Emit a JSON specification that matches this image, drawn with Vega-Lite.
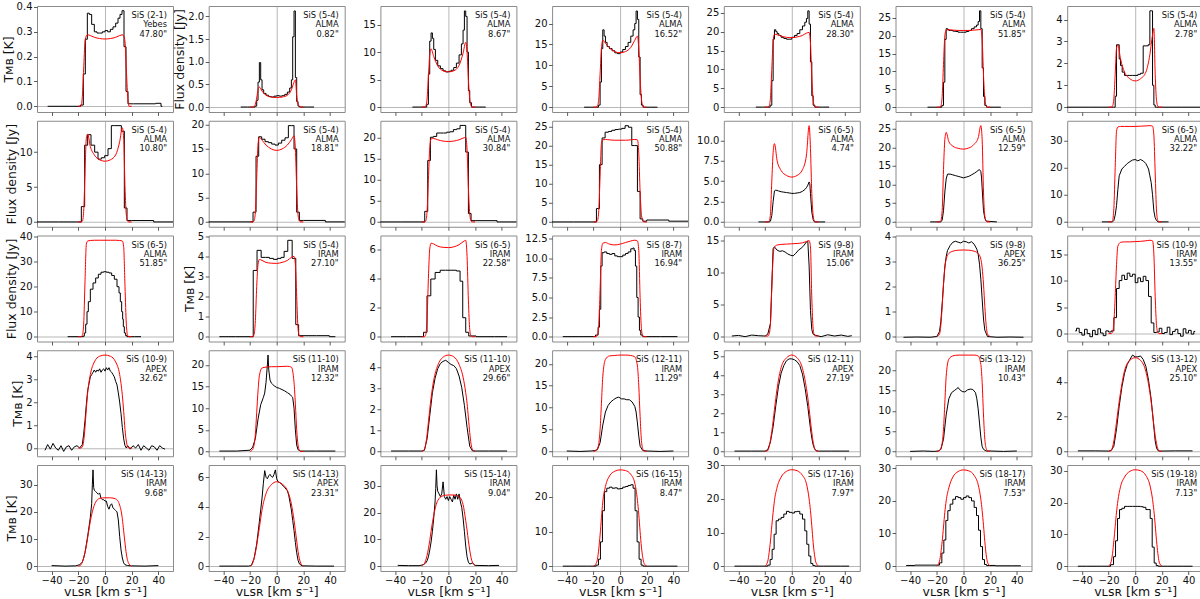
{
"$schema":"https://vega.github.io/schema/vega-lite/v6.json",
"padding":{"left":1,"top":1,"right":0,"bottom":0},
"datasets":{"t":[
{"p":0,"lab":["SiS (2-1)","Yebes","47.80\""]},{"p":1,"lab":["SiS (5-4)","ALMA","0.82\""]},{"p":2,"lab":["SiS (5-4)","ALMA","8.67\""]},{"p":3,"lab":["SiS (5-4)","ALMA","16.52\""]},{"p":4,"lab":["SiS (5-4)","ALMA","28.30\""]},{"p":5,"lab":["SiS (5-4)","ALMA","51.85\""]},{"p":6,"lab":["SiS (5-4)","ALMA","2.78\""]},
{"p":7,"lab":["SiS (5-4)","ALMA","10.80\""]},{"p":8,"lab":["SiS (5-4)","ALMA","18.81\""]},{"p":9,"lab":["SiS (5-4)","ALMA","30.84\""]},{"p":10,"lab":["SiS (5-4)","ALMA","50.88\""]},{"p":11,"lab":["SiS (6-5)","ALMA","4.74\""]},{"p":12,"lab":["SiS (6-5)","ALMA","12.59\""]},{"p":13,"lab":["SiS (6-5)","ALMA","32.22\""]},
{"p":14,"lab":["SiS (6-5)","ALMA","51.85\""]},{"p":15,"lab":["SiS (5-4)","IRAM","27.10\""]},{"p":16,"lab":["SiS (6-5)","IRAM","22.58\""]},{"p":17,"lab":["SiS (8-7)","IRAM","16.94\""]},{"p":18,"lab":["SiS (9-8)","IRAM","15.06\""]},{"p":19,"lab":["SiS (9-8)","APEX","36.25\""]},{"p":20,"lab":["SiS (10-9)","IRAM","13.55\""]},
{"p":21,"lab":["SiS (10-9)","APEX","32.62\""]},{"p":22,"lab":["SiS (11-10)","IRAM","12.32\""]},{"p":23,"lab":["SiS (11-10)","APEX","29.66\""]},{"p":24,"lab":["SiS (12-11)","IRAM","11.29\""]},{"p":25,"lab":["SiS (12-11)","APEX","27.19\""]},{"p":26,"lab":["SiS (13-12)","IRAM","10.43\""]},{"p":27,"lab":["SiS (13-12)","APEX","25.10\""]},
{"p":28,"lab":["SiS (14-13)","IRAM","9.68\""]},{"p":29,"lab":["SiS (14-13)","APEX","23.31\""]},{"p":30,"lab":["SiS (15-14)","IRAM","9.04\""]},{"p":31,"lab":["SiS (16-15)","IRAM","8.47\""]},{"p":32,"lab":["SiS (17-16)","IRAM","7.97\""]},{"p":33,"lab":["SiS (18-17)","IRAM","7.53\""]},{"p":34,"lab":["SiS (19-18)","IRAM","7.13\""]}
],
"d":[
{"p":0,"s":"o","v":[-43,-20,-17,-15.5,-14,-12.5,-11,-9,-7,-5,-3,-1,1,3,5,7,9,10.5,12,13.5,15,16.5,18,25,35,41,43],"y":[0,0,0.005,0.13,0.27,0.375,0.37,0.33,0.30,0.295,0.295,0.30,0.305,0.30,0.31,0.32,0.335,0.355,0.37,0.385,0.24,0.06,0.01,0.01,0.01,0.012,0]},
{"p":0,"s":"m","v":[-20,-18,-17,-16,-15,-14,-13,-11,-8,-4,0,4,8,11,13,14,15,16,17,18,20],"y":[0,0,0.04,0.15,0.26,0.283,0.288,0.285,0.278,0.273,0.271,0.273,0.278,0.285,0.288,0.283,0.26,0.15,0.04,0,0]},
{"p":1,"s":"o","v":[-27,-17,-15.5,-14.5,-13.5,-12.5,-11.5,-10.5,-9,-7,-5,-3,-1,1,3,5,7,9,10.5,11.5,12.5,13.5,14.5,15.5,16.5,18,28],"y":[0,0,0.02,0.15,0.55,0.98,0.6,0.38,0.3,0.26,0.23,0.22,0.24,0.25,0.24,0.25,0.28,0.33,0.42,0.6,1.55,2.12,0.65,0.12,0.02,0,0]},
{"p":1,"s":"m","v":[-20,-18,-17,-16,-15,-14,-13,-11,-8,-4,0,4,8,11,13,14,15,16,17,18,20],"y":[0,0,0.01,0.06,0.2,0.38,0.44,0.35,0.26,0.22,0.21,0.22,0.26,0.38,0.55,0.6,0.25,0.06,0.01,0,0]},
{"p":2,"s":"o","v":[-27,-17,-15.5,-14.5,-13.5,-12.5,-11.5,-10.5,-9,-7,-5,-3,-1,1,3,5,7,9,10.5,11.5,12.5,13.5,14.5,15.5,16.5,18,28],"y":[0,0,0.5,6,12,13.5,12.5,10.5,8.5,7.5,7,6.6,6.4,6.5,6.7,7.2,8,9.5,11.5,14,17.5,16.5,10,3,0.8,0,0]},
{"p":2,"s":"m","v":[-20,-18,-17,-16,-15,-14,-13,-11,-8,-4,0,4,8,11,13,14,15,16,17,18,20],"y":[0,0,0.2,1.5,5.5,9.5,10.6,9.2,7.5,6.6,6.4,6.6,7.6,9.8,11.8,10,5,1.5,0.2,0,0]},
{"p":3,"s":"o","v":[-27,-17,-15.5,-14.5,-13.5,-12.5,-11.5,-10.5,-9,-7,-5,-3,-1,1,3,5,7,9,10.5,11.5,12.5,13.5,14.5,15.5,16.5,18,28],"y":[0,0,0.5,6,14,18.5,17,15.5,14.5,14,13.5,13,12.8,13.2,13.8,14.5,15.5,17,18.5,20,23,21,12,3,0.5,0,0]},
{"p":3,"s":"m","v":[-20,-18,-17,-16,-15,-14,-13,-11,-8,-4,0,4,8,11,13,14,15,16,17,18,20],"y":[0,0,0.3,2,8,14,16,15.3,14.2,13.3,13,13.3,14.3,16,17,14,7,2,0.3,0,0]},
{"p":4,"s":"o","v":[-27,-17,-15.5,-14.5,-13.5,-12.5,-11.5,-10.5,-9,-7,-5,-3,-1,1,3,5,7,9,10.5,11.5,12.5,13.5,14.5,15.5,16.5,18,28],"y":[0,0,0.5,7,18,20.5,20,19.5,19,18.5,18.2,18,18,18.5,19,19.5,20.5,21.5,22.5,23.5,25.5,22,12,3,0.5,0,0]},
{"p":4,"s":"m","v":[-20,-18,-17,-16,-15,-14,-13,-11,-8,-4,0,4,8,11,13,14,15,16,17,18,20],"y":[0,0,0.3,2.5,10,17.5,19.3,19.2,18.8,18.5,18.4,18.6,19,19.6,19.8,17,8,2,0.3,0,0]},
{"p":5,"s":"o","v":[-27,-17,-15.5,-14.5,-13.5,-12.5,-11.5,-10.5,-9,-7,-5,-3,-1,1,3,5,7,9,10.5,11.5,12.5,13.5,14.5,15.5,16.5,18,28],"y":[0,0,0.5,7,19,22,21.8,21.5,21.5,21.3,21.2,21,21,21,21.2,21.5,22,22.5,23,24,27,22,11,3,0.5,0,0]},
{"p":5,"s":"m","v":[-20,-18,-17,-16,-15,-14,-13,-11,-8,-4,0,4,8,11,13,14,15,16,17,18,20],"y":[0,0,0.3,3,12,20,21.6,21.7,21.6,21.5,21.5,21.5,21.6,21.7,21.8,19,9,2.5,0.3,0,0]},
{"p":6,"s":"o","v":[-51,-17,-15.5,-14.5,-13.5,-12.5,-11.5,-10.5,-9,-7,-5,-3,-1,1,3,5,7,9,10.5,11.5,12.5,13.5,14.5,15.5,16.5,18,51],"y":[0,0,0,0.5,2.85,2.85,2.2,1.9,1.6,1.45,1.45,1.45,1.45,1.45,1.5,1.55,2.8,2.8,2.85,4.4,4.4,1.0,0.1,0,0,0,0]},
{"p":6,"s":"m","v":[-20,-18,-17,-16,-15,-14,-13,-11,-8,-4,0,4,8,11,13,14,15,16,17,18,20],"y":[0,0,0.05,0.4,1.5,2.7,2.85,2.2,1.6,1.3,1.2,1.3,1.6,2.4,3.3,3.6,1.5,0.3,0.05,0,0]},
{"p":7,"s":"o","v":[-51,-19,-16.5,-14,-12,-9,-6.5,-4,-1.5,1,3.5,6,8.5,11,13.5,15.5,17.5,22,51],"y":[0,0,2.2,11,12.5,11,10,9,9.2,9.5,10.5,13.8,13.8,13.8,13,2,0.2,0.2,0]},
{"p":7,"s":"m","v":[-20,-18,-17,-16,-15,-14,-13,-11,-8,-4,0,4,8,11,13,14,15,16,17,18,20],"y":[0,0,0.1,1.5,7,12,12.6,10.8,9.6,8.9,8.7,8.9,9.6,11.5,13.5,12,5,1,0.1,0,0]},
{"p":8,"s":"o","v":[-51,-19,-16.5,-14.5,-12.5,-10,-7.5,-5,-2.5,0,2.5,5,7.5,10,12,14,16,18,22,51],"y":[0,0,2,13.5,17.5,17,16.5,16.3,16,15.8,16.2,16.8,17.3,19.8,19.8,15,2,0.3,0.3,0]},
{"p":8,"s":"m","v":[-20,-18,-17,-16,-15,-14,-13,-11,-8,-4,0,4,8,11,13,14,15,16,17,18,20],"y":[0,0,0.2,2,9,16,17.4,16.8,15.8,15,14.7,15,15.8,16.9,17.7,15,7,1.5,0.2,0,0]},
{"p":9,"s":"o","v":[-51,-19,-16.5,-14.5,-12.5,-10,-7.5,-5,-2.5,0,2.5,5,7.5,10,12,14,16,18,22,51],"y":[0,0,2.5,14.5,20,20.2,21,21,21,21.2,21.3,21.8,22,22.8,22.8,16.5,2,0.3,0.3,0]},
{"p":9,"s":"m","v":[-20,-18,-17,-16,-15,-14,-13,-11,-8,-4,0,4,8,11,13,14,15,16,17,18,20],"y":[0,0,0.2,2.5,10,17.5,19.6,19.7,19.4,19.1,19,19.1,19.4,19.8,20,17,8,2,0.2,0,0]},
{"p":10,"s":"o","v":[-51,-19,-16.5,-14.5,-12.5,-10,-7.5,-5,-2.5,0,2.5,5,7.5,10,12,14,16,18,22,51],"y":[0,0,3.5,15,22,23.5,23.7,24,24.2,24.3,24.5,25.2,24.8,20,20,8,0.8,0.2,0.5,0.2]},
{"p":10,"s":"m","v":[-20,-18,-17,-16,-15,-14,-13,-11,-8,-4,0,4,8,11,13,14,15,16,17,18,20],"y":[0,0,0.3,3,12,20.5,21.5,21.6,21.5,21.4,21.4,21.4,21.5,21.6,21.5,18,8,2,0.3,0,0]},
{"p":11,"s":"o","v":[-25,-17,-16,-15,-14,-13,-12,-10,-8,-6,-4,-2,0,2,4,6,8,10,11,12,13,13.5,14,15,16,17,25],"y":[0,0,0.1,0.8,2.5,3.8,3.9,3.8,3.7,3.65,3.6,3.55,3.5,3.5,3.55,3.6,3.75,4.0,4.2,4.5,4.9,4.7,3.5,1.2,0.3,0,0]},
{"p":11,"s":"m","v":[-20,-18,-17,-16,-15,-14,-13,-11,-8,-4,0,4,8,11,13,14,15,16,17,18,20],"y":[0,0,0.1,1,5,8.5,9.6,7.5,6.3,5.7,5.5,5.7,6.4,8.2,11.8,9,3.5,0.8,0.1,0,0]},
{"p":12,"s":"o","v":[-25,-17,-16,-15,-14,-13,-12,-10,-8,-6,-4,-2,0,2,4,6,8,10,11,12,13,13.5,14,15,16,17,25],"y":[0,0,0.5,3,8,11.5,12.8,12.8,12.6,12.4,12.2,12,11.8,12,12.2,12.6,13,13.5,13.8,14,13.5,12,9,3,1,0.2,0]},
{"p":12,"s":"m","v":[-20,-18,-17,-16,-15,-14,-13,-11,-8,-4,0,4,8,11,13,14,15,16,17,18,20],"y":[0,0,0.3,3,14,22,24,21.5,20.3,19.7,19.5,19.8,20.8,22.5,25.8,22,8,1.5,0.2,0,0]},
{"p":13,"s":"o","v":[-25,-17,-16,-15,-14,-13,-12,-10,-8,-6,-4,-2,0,2,4,6,8,10,11,12,13,13.5,14,15,16,17,25],"y":[0,0,0.5,2.5,6,12,17,19.5,20.5,21.5,22.2,22.8,23,22.5,23,22.5,21.5,19.5,17,14.5,10,7,4,1.5,0.5,0,0]},
{"p":13,"s":"m","v":[-20,-18,-17,-16,-15,-14,-13,-11,-8,-4,0,4,8,11,13,14,15,16,17,18,20],"y":[0,0,0.5,5,20,33.5,35,35.2,35.2,35.2,35.2,35.3,35.4,35.5,35.3,32,18,4,0.5,0,0]},
{"p":14,"s":"o","v":[-28,-17,-16,-15,-14,-13,-12,-10,-8,-6,-4,-2,0,2,4,6,8,10,11,12,13,13.5,14,15,16,17,27],"y":[0,0,0.2,1.5,5,10,14,19,21.5,23.5,25,25.8,26,25.8,25.5,24.5,23,20,17.5,14,10,7,4,1.5,0.4,0,0]},
{"p":14,"s":"m","v":[-20,-18,-17,-16,-15,-14,-13,-11,-8,-4,0,4,8,11,13,14,15,16,17,18,20],"y":[0,0,0.5,5,22,37,38.3,38.5,38.6,38.6,38.6,38.6,38.6,38.5,38.3,36,20,5,0.5,0,0]},
{"p":15,"s":"o","v":[-43,-19,-16.2,-13.3,-10,-7,-4,-1,2,4.5,6.6,10,13.2,15.4,17.5,25,35,44],"y":[0,0,3.3,4.3,3.95,3.95,3.9,3.85,3.9,3.95,4.25,4.8,3.9,0.6,0.05,0.05,0.05,0]},
{"p":15,"s":"m","v":[-20,-18,-17,-16,-15,-14,-13,-11,-8,-4,0,4,8,11,13,14,15,16,17,18,20],"y":[0,0,0.1,0.8,2.5,3.6,3.85,3.8,3.7,3.66,3.65,3.7,3.8,3.95,4.0,3.6,2,0.4,0.05,0,0]},
{"p":16,"s":"o","v":[-43,-20,-17.3,-14.8,-11.6,-8.3,-4,0,4,8,9.5,12,14,16.5,25,44],"y":[0,0,0.3,2.8,3.95,4.4,4.55,4.55,4.55,4.5,3.8,1.3,0.3,0.05,0,0]},
{"p":16,"s":"m","v":[-20,-18,-17,-16,-15,-14,-13,-11,-8,-4,0,4,8,11,13,14,15,16,17,18,20],"y":[0,0,0.15,1.2,4,6,6.4,6.35,6.2,6.12,6.1,6.15,6.3,6.5,6.6,5.5,2.5,0.5,0.05,0,0]},
{"p":17,"s":"o","v":[-43,-20,-17,-16,-15,-14,-13,-11,-9,-7,-5,-3,-1,1,3,5,7,9,10,11,12,13,14,15,16,18,43],"y":[0,0,0.2,1.2,3.5,9,10.7,10.8,10.6,10.5,10.6,10.3,10.2,10.2,10.4,10.6,10.8,11.2,11.3,11,9,5,2.5,0.8,0.2,0,0]},
{"p":17,"s":"m","v":[-20,-18,-17,-16,-15,-14,-13,-11,-8,-4,0,4,8,11,13,14,15,16,17,18,20],"y":[0,0,0.2,1.5,6,11,11.9,12,11.8,11.7,11.8,12,12.2,12.3,12.2,11,5,1,0.1,0,0]},
{"p":18,"s":"o","v":[-45,-40,-35,-30,-25,-20,-18,-16,-15,-14,-13,-11,-9,-7,-5,-3,-1,1,3,5,7,9,11,12,13,14,15,16,18,22,27,32,37,42,45],"y":[0,0.1,-0.1,0.15,0.05,0,0.3,2,8,13.8,14,13.5,13.3,13.4,13.2,12.9,12.7,12.6,13,13.5,13.8,14.2,14.8,14.9,11,4,1,0.3,0.1,-0.1,0.2,0,0.15,-0.05,0.05]},
{"p":18,"s":"m","v":[-20,-18,-17,-16,-15,-14,-13,-11,-8,-4,0,4,8,11,13,14,15,16,17,18,20],"y":[0,0,0.3,2,7.5,12.5,14,14.3,14.4,14.45,14.5,14.55,14.65,14.85,15,14,6,1.2,0.1,0,0]},
{"p":19,"s":"o","v":[-45,-35,-25,-20,-18,-17,-16,-15,-14,-13,-12,-10,-8,-6,-4,-2,0,2,4,6,8,10,11,12,13,14,15,16,18,25,35,45],"y":[-0.03,-0.02,-0.03,0,0.2,0.6,1.3,2.1,2.8,3.2,3.45,3.65,3.78,3.82,3.78,3.75,3.82,3.8,3.75,3.8,3.7,3.5,3.3,2.9,2.3,1.5,0.7,0.25,0,-0.03,-0.02,-0.03]},
{"p":19,"s":"m","v":[-20,-18,-17,-16,-15,-14,-13,-11,-8,-4,0,4,8,11,13,14,15,16,17,18,20],"y":[0,0.1,0.45,1.2,2.1,2.75,3.1,3.33,3.42,3.46,3.47,3.46,3.42,3.33,3.1,2.75,2.1,1.2,0.45,0.1,0]},
{"p":20,"s":"o","v":[-45,-43,-41,-39,-37,-35,-33,-31,-29,-27,-25,-23,-21,-19,-17,-15,-13,-11,-9,-7,-5,-3,-1,1,3,5,7,9,11,13,15,17,19,21,23,25,27,29,31,33,35,37,39,41,43,45],"y":[0.5,1,0.2,-0.3,0.8,0,-0.6,0.6,-0.2,0.9,0.1,-0.4,0.5,0.3,0.5,3,8.5,10,11,10.2,11.4,10.8,11.2,9.6,10.5,9.8,10.8,10,7,2,0.2,0.3,1,0,0.2,1.2,-0.2,0.4,0.8,0,-0.5,0.9,0.1,0.6,-0.1,0.4]},
{"p":20,"s":"m","v":[-20,-18,-17,-16,-15,-14,-13,-11,-8,-4,0,4,8,11,13,14,15,16,17,18,20],"y":[0,0,0.3,2,7,13,16.5,17.2,17.3,17.3,17.35,17.4,17.5,17.6,17.5,15,7,1.5,0.2,0,0]},
{"p":21,"s":"o","v":[-45,-43,-41,-39,-37,-35,-33,-31,-29,-27,-25,-23,-21,-19,-17,-16,-15,-14,-13,-12,-11,-10,-9,-8,-7,-6,-5,-4,-3,-2,-1,0,1,2,3,4,5,6,7,8,9,10,11,12,13,14,15,16,17,19,21,23,25,27,29,31,33,35,37,39,41,43,45],"y":[-0.1,0.15,-0.05,0.2,0,-0.1,0.1,-0.15,0.05,0.1,-0.1,0.05,0.1,0,0.15,0.6,1.2,1.9,2.5,2.8,3.1,3.2,3.3,3.4,3.3,3.4,3.35,3.45,3.3,3.4,3.45,3.35,3.5,3.4,3.5,3.35,3.3,3.2,3.1,2.9,2.75,2.4,2,1.5,0.9,0.4,0.1,0,0.1,-0.05,0.1,0,0.15,-0.1,0.1,0,-0.1,0.1,0.05,-0.1,0.1,0,-0.05]},
{"p":21,"s":"m","v":[-20,-18,-17,-16,-15,-14,-13,-11,-8,-4,0,4,8,11,13,14,15,16,17,18,20],"y":[0,0,0.05,0.3,0.9,1.7,2.4,3.2,3.75,4.0,4.05,4.0,3.75,3.2,2.3,1.6,0.8,0.3,0.05,0,0]},
{"p":22,"s":"o","v":[-43,-30,-20,-18,-16,-14,-12,-10,-9,-8,-7,-6.5,-6,-5,-4,-3,-2,0,2,4,6,8,10,11,12,13,14,15,16,18,30,44],"y":[0.1,0.1,0.3,1,3,7.5,10.8,12.5,13.5,16,20,22.3,19,16.5,15.8,15.5,15.2,14.8,14.6,14.3,14,13.6,13.2,12.8,12.5,10,5,1.5,0.4,0.1,0.1,0.1]},
{"p":22,"s":"m","v":[-20,-18,-17,-16,-15,-14,-13,-11,-8,-4,0,4,8,11,13,14,15,16,17,18,20],"y":[0,0.5,1.5,4,9,14,17.5,19.3,19.5,19.6,19.6,19.65,19.7,19.5,16,11,5,1.5,0.3,0,0]},
{"p":23,"s":"o","v":[-43,-30,-20,-18,-16,-14,-12,-10,-8,-6,-4,-2,0,2,4,6,8,10,12,14,16,18,20,30,44],"y":[0.02,0.02,0.02,0.05,0.6,1.7,2.8,3.5,3.95,4.2,4.3,4.35,4.25,4.15,4.1,3.95,3.6,3.05,2.2,1.15,0.25,0.03,0.02,0.02,0.02]},
{"p":23,"s":"m","v":[-20,-18,-17,-16,-15,-14,-13,-11,-8,-4,0,4,8,11,13,14,15,16,17,18,20],"y":[0,0.1,0.35,0.8,1.4,2,2.55,3.4,4.1,4.5,4.6,4.52,4.15,3.55,2.8,2.3,1.6,0.9,0.35,0.1,0]},
{"p":24,"s":"o","v":[-40,-30,-22,-19,-17,-15,-13,-11,-9,-7,-5,-3,-1,1,3,5,7,9,11,12,13,14,15,17,20,30,40],"y":[0.1,0,0.1,0.2,0.4,2,6,9,10.5,11.3,11.8,12.2,12.4,12,12,11.8,11.8,11.3,10.3,9,6.5,3.5,1.2,0.2,0.1,0,0.1]},
{"p":24,"s":"m","v":[-20,-18,-17,-16,-15,-14,-13,-11,-8,-4,0,4,8,11,13,14,15,16,17,18,20],"y":[0,0.2,0.6,1.8,5,11,17,21,21.8,21.9,22,22,21.9,21.6,19.5,15,8,2.5,0.6,0.1,0]},
{"p":25,"s":"o","v":[-43,-30,-20,-18,-16,-14,-12,-10,-8,-6,-4,-2,0,2,4,6,8,10,12,14,15,16,17,18,20,30,43],"y":[0.02,0.02,0.02,0.1,0.5,1.3,2.4,3.4,4.1,4.5,4.75,4.85,4.85,4.8,4.7,4.5,4.05,3.3,2.35,1.2,0.7,0.35,0.15,0.05,0.02,0.02,0.02]},
{"p":25,"s":"m","v":[-20,-18,-17,-16,-15,-14,-13,-11,-8,-4,0,4,8,11,13,14,15,16,17,18,20],"y":[0,0.05,0.25,0.6,1.05,1.6,2.2,3.3,4.4,4.9,5.05,4.9,4.35,3.3,2.25,1.6,1.0,0.5,0.2,0.05,0]},
{"p":26,"s":"o","v":[-40,-30,-22,-19,-17,-15,-13,-11,-9,-7,-5,-4,-3,-1,1,3,5,7,9,10,11,12,13,14,15,17,20,30,40],"y":[0,0.1,0,0.1,0.5,3,9,13,14.5,15,15.5,15.8,15.3,14.8,14.7,15.2,15.4,15.3,14.5,13,10.5,7,3.5,1.2,0.5,0.1,0.1,0,0.1]},
{"p":26,"s":"m","v":[-20,-18,-17,-16,-15,-14,-13,-11,-8,-4,0,4,8,11,13,14,15,16,17,18,20],"y":[0,0.2,0.7,2,5.5,12,18.5,22.8,23.6,23.8,23.8,23.8,23.8,23.6,21.5,17,9,3,0.7,0.1,0]},
{"p":27,"s":"o","v":[-43,-30,-20,-18,-16,-14,-12,-10,-8,-6,-4,-2,0,2,4,6,8,10,12,14,15,16,17,18,20,30,43],"y":[0.03,0.03,0.02,0.05,0.3,1.3,2.6,3.7,4.5,5.0,5.3,5.55,5.45,5.45,5.5,5.3,4.9,4.1,3.0,1.4,0.6,0.2,0.05,0.02,0.02,0.03,0.03]},
{"p":27,"s":"m","v":[-20,-18,-17,-16,-15,-14,-13,-11,-8,-4,0,4,8,11,13,14,15,16,17,18,20],"y":[0,0.05,0.25,0.6,1.1,1.7,2.3,3.4,4.65,5.25,5.4,5.25,4.6,3.4,2.2,1.5,0.9,0.45,0.15,0.03,0]},
{"p":28,"s":"o","v":[-40,-30,-22,-19,-17,-16,-15,-14,-13,-12,-11,-10,-9.5,-9,-8.5,-8,-7,-6,-5,-4,-3,-2,-1,0,1,2,3,4,5,6,7,8,9,10,11,12,13,14,15,17,20,30,40],"y":[0.2,0,0.1,0.5,1.5,3,5,8,11,14.5,18,23,30,35.5,29,28,27.5,27,26.5,27,25,24.5,24.5,24,24,22,21,22.5,23,21.5,21,20.5,20,17,11,6,3,1.2,0.5,0.2,0.1,0,0.2]},
{"p":28,"s":"m","v":[-20,-18,-17,-16,-15,-14,-13,-11,-8,-4,0,4,8,11,13,14,15,16,17,18,20],"y":[0,0.5,1.5,3,5,7.5,10.5,16.5,22.5,25,25.2,25.2,24.8,22.5,17.5,13,8.5,4.5,2,0.8,0]},
{"p":29,"s":"o","v":[-43,-30,-21,-19,-17,-15,-13,-12,-11,-10,-9,-8,-7,-6,-5,-4,-3,-2,-1,0,1,2,3,4,5,6,7,8,9,10,11,12,13,14,15,16,17,19,30,43],"y":[0,0,0,0.05,0.5,1.5,3,3.8,4.6,5.6,6.45,6,5.9,6.1,6.2,6.05,6,6.2,6.5,5.9,5.7,5.65,5.6,5.5,5.4,5.3,5.2,5.1,4.8,4.3,3.8,3.1,2.4,1.6,0.9,0.4,0.15,0.02,0,0]},
{"p":29,"s":"m","v":[-20,-18,-17,-16,-15,-14,-13,-11,-8,-4,0,4,8,11,13,14,15,16,17,18,20],"y":[0,0.2,0.5,0.9,1.4,2,2.6,3.8,4.9,5.5,5.7,5.55,5.1,4.2,3.1,2.4,1.7,1.0,0.5,0.2,0]},
{"p":30,"s":"o","v":[-38,-30,-22,-19,-17,-16,-15,-14,-13,-12,-11,-10,-9.5,-9,-8.5,-8,-7,-6,-5,-4,-3,-2,-1,0,1,2,3,4,5,6,7,8,9,10,11,12,13,14,15,16,18,20,30,38],"y":[0.3,0.2,0.2,0.5,1.2,2,3.5,6,9,13,18,24,29,36,30,28,27,26,27,31.5,26,25,26,24.5,26,25,24,26.5,25,27,25,27,24,22,18,13,7.5,3.5,1.5,0.8,1.2,0.3,0.2,0.3]},
{"p":30,"s":"m","v":[-20,-18,-17,-16,-15,-14,-13,-11,-8,-4,0,4,8,11,13,14,15,16,17,18,20],"y":[0.2,1,2.2,4,6.5,9.5,13,19,24.5,26.3,26.6,26.6,26,23,17,13.5,9.5,6,3.2,1.5,0.3]},
{"p":31,"s":"o","v":[-43,-30,-19,-17,-15.5,-14,-12.5,-11,-9,-7,-5,-3,-1,1,3,5,7,9,10.5,12,13.5,15,16.5,18,30,43],"y":[0,0,0,0.3,2,7,16,21.5,22.5,22.8,22.5,22.6,22.3,22.4,22.8,23,23.3,23.5,22.5,16,7,2,0.3,0,0,0]},
{"p":31,"s":"m","v":[-20,-18,-17,-16,-15,-14,-13,-11,-8,-4,0,4,8,11,13,14,15,16,17,18,20],"y":[0,0.8,2,5,9,14,18.5,23,26,27.4,27.8,27.6,26.5,24,19,15,10,5.5,2.5,0.8,0]},
{"p":32,"s":"o","v":[-43,-30,-19,-17,-15.5,-14,-12.5,-11,-9,-7,-5,-3,-1,1,3,5,7,9,10.5,12,13.5,15,16.5,18,30,43],"y":[0,0,0,0.3,2,5,9.5,13.5,14,14.5,15.5,16.3,16,15.8,16.2,16.3,15.5,14,10.5,6.5,3,0.8,0.2,0,0,0]},
{"p":32,"s":"m","v":[-20,-18,-17,-16,-15,-14,-13,-11,-8,-4,0,4,8,11,13,14,15,16,17,18,20],"y":[0,1.5,4,7.5,12,16,19.5,23.5,26.5,28.2,28.7,28.4,27,24.5,20,16.5,12,7,3.5,1.2,0]},
{"p":33,"s":"o","v":[-43,-30,-19,-17,-15.5,-14,-12.5,-11,-9,-7,-5,-3,-1,1,3,5,7,9,10.5,12,13.5,15,16.5,18,30,43],"y":[0.2,0.3,0.3,1,4,8,14,17,19,20.5,21.3,21,20.5,21,21.5,21,20,18,15.5,11,6,2,0.5,0.2,0.1,0.1]},
{"p":33,"s":"m","v":[-20,-18,-17,-16,-15,-14,-13,-11,-8,-4,0,4,8,11,13,14,15,16,17,18,20],"y":[0,1.5,4,7.5,12,16.5,20,24,27.3,29,29.5,29.2,27.8,25,20.5,17,12.5,7.5,3.5,1.2,0]},
{"p":34,"s":"o","v":[-43,-30,-20,-17,-15.5,-14,-12.5,-11,-9,-7,-5,-3,-1,1,3,5,7,9,10.5,12,13.5,15,16.5,18,30,43],"y":[0,0,0,0.5,3,8,15,17.8,18.2,18.8,18.8,18.8,18.8,18.8,18.8,18.7,18.5,17.8,17.8,15,6,1,0.2,0,0,0]},
{"p":34,"s":"m","v":[-20,-18,-17,-16,-15,-14,-13,-11,-8,-4,0,4,8,11,13,14,15,16,17,18,20],"y":[0,1.5,4,8,12.5,17,20.5,25,28,29.8,30.3,30,28.5,25.5,21,17.5,13,8,4,1.3,0]}
]},
"data":{"name":"d"},
"transform":[{"flatten":["v","y"]}],
"columns":7,
"bounds":"flush",
"spacing":{"row":8.75,"column":35.7},
"concat":[
{"width":136,"height":106,"encoding":{"x":{"type":"quantitative","scale":{"domain":[-51,51]},"axis":{"values":[-40,-20,0,20,40],"labels":false,"title":null}},"y":{"type":"quantitative","scale":{"domain":[-0.023,0.404]},"axis":{"values":[0,0.1,0.2,0.3,0.4],"format":".1f","title":"Tᴍʙ [K]"}}},"layer":[{"transform":[{"filter":"datum.p==0&&datum.s=='o'"}],"mark":{"type":"line","interpolate":"step","color":"#000"},"encoding":{"x":{"field":"v"},"y":{"field":"y"}}},{"transform":[{"filter":"datum.p==0&&datum.s=='m'"}],"mark":{"type":"line","interpolate":"monotone","color":"#f00"},"encoding":{"x":{"field":"v"},"y":{"field":"y"}}},{"data":{"name":"t"},"transform":[{"filter":"datum.p==0"}],"mark":"text","encoding":{"x":{"datum":51},"y":{"datum":0.404},"text":{"field":"lab"}}}]},
{"width":136,"height":106,"encoding":{"x":{"type":"quantitative","scale":{"domain":[-51,51]},"axis":{"values":[-40,-20,0,20,40],"labels":false,"title":null}},"y":{"type":"quantitative","scale":{"domain":[-0.11,2.23]},"axis":{"values":[0,0.5,1,1.5,2],"format":".1f","title":"Flux density [Jy]"}}},"layer":[{"transform":[{"filter":"datum.p==1&&datum.s=='o'"}],"mark":{"type":"line","interpolate":"step","color":"#000"},"encoding":{"x":{"field":"v"},"y":{"field":"y"}}},{"transform":[{"filter":"datum.p==1&&datum.s=='m'"}],"mark":{"type":"line","interpolate":"monotone","color":"#f00"},"encoding":{"x":{"field":"v"},"y":{"field":"y"}}},{"data":{"name":"t"},"transform":[{"filter":"datum.p==1"}],"mark":"text","encoding":{"x":{"datum":51},"y":{"datum":2.23},"text":{"field":"lab"}}}]},
{"width":136,"height":106,"encoding":{"x":{"type":"quantitative","scale":{"domain":[-51,51]},"axis":{"values":[-40,-20,0,20,40],"labels":false,"title":null}},"y":{"type":"quantitative","scale":{"domain":[-0.9,18.4]},"axis":{"values":[0,5,10,15],"format":"d","title":null}}},"layer":[{"transform":[{"filter":"datum.p==2&&datum.s=='o'"}],"mark":{"type":"line","interpolate":"step","color":"#000"},"encoding":{"x":{"field":"v"},"y":{"field":"y"}}},{"transform":[{"filter":"datum.p==2&&datum.s=='m'"}],"mark":{"type":"line","interpolate":"monotone","color":"#f00"},"encoding":{"x":{"field":"v"},"y":{"field":"y"}}},{"data":{"name":"t"},"transform":[{"filter":"datum.p==2"}],"mark":"text","encoding":{"x":{"datum":51},"y":{"datum":18.4},"text":{"field":"lab"}}}]},
{"width":136,"height":106,"encoding":{"x":{"type":"quantitative","scale":{"domain":[-51,51]},"axis":{"values":[-40,-20,0,20,40],"labels":false,"title":null}},"y":{"type":"quantitative","scale":{"domain":[-1.15,24.2]},"axis":{"values":[0,5,10,15,20],"format":"d","title":null}}},"layer":[{"transform":[{"filter":"datum.p==3&&datum.s=='o'"}],"mark":{"type":"line","interpolate":"step","color":"#000"},"encoding":{"x":{"field":"v"},"y":{"field":"y"}}},{"transform":[{"filter":"datum.p==3&&datum.s=='m'"}],"mark":{"type":"line","interpolate":"monotone","color":"#f00"},"encoding":{"x":{"field":"v"},"y":{"field":"y"}}},{"data":{"name":"t"},"transform":[{"filter":"datum.p==3"}],"mark":"text","encoding":{"x":{"datum":51},"y":{"datum":24.2},"text":{"field":"lab"}}}]},
{"width":136,"height":106,"encoding":{"x":{"type":"quantitative","scale":{"domain":[-51,51]},"axis":{"values":[-40,-20,0,20,40],"labels":false,"title":null}},"y":{"type":"quantitative","scale":{"domain":[-1.3,26.8]},"axis":{"values":[0,5,10,15,20,25],"format":"d","title":null}}},"layer":[{"transform":[{"filter":"datum.p==4&&datum.s=='o'"}],"mark":{"type":"line","interpolate":"step","color":"#000"},"encoding":{"x":{"field":"v"},"y":{"field":"y"}}},{"transform":[{"filter":"datum.p==4&&datum.s=='m'"}],"mark":{"type":"line","interpolate":"monotone","color":"#f00"},"encoding":{"x":{"field":"v"},"y":{"field":"y"}}},{"data":{"name":"t"},"transform":[{"filter":"datum.p==4"}],"mark":"text","encoding":{"x":{"datum":51},"y":{"datum":26.8},"text":{"field":"lab"}}}]},
{"width":136,"height":106,"encoding":{"x":{"type":"quantitative","scale":{"domain":[-51,51]},"axis":{"values":[-40,-20,0,20,40],"labels":false,"title":null}},"y":{"type":"quantitative","scale":{"domain":[-1.35,28.35]},"axis":{"values":[0,5,10,15,20,25],"format":"d","title":null}}},"layer":[{"transform":[{"filter":"datum.p==5&&datum.s=='o'"}],"mark":{"type":"line","interpolate":"step","color":"#000"},"encoding":{"x":{"field":"v"},"y":{"field":"y"}}},{"transform":[{"filter":"datum.p==5&&datum.s=='m'"}],"mark":{"type":"line","interpolate":"monotone","color":"#f00"},"encoding":{"x":{"field":"v"},"y":{"field":"y"}}},{"data":{"name":"t"},"transform":[{"filter":"datum.p==5"}],"mark":"text","encoding":{"x":{"datum":51},"y":{"datum":28.35},"text":{"field":"lab"}}}]},
{"width":136,"height":106,"encoding":{"x":{"type":"quantitative","scale":{"domain":[-51,51]},"axis":{"values":[-40,-20,0,20,40],"labels":false,"title":null}},"y":{"type":"quantitative","scale":{"domain":[-0.22,4.62]},"axis":{"values":[0,1,2,3,4],"format":"d","title":null}}},"layer":[{"transform":[{"filter":"datum.p==6&&datum.s=='o'"}],"mark":{"type":"line","interpolate":"step","color":"#000"},"encoding":{"x":{"field":"v"},"y":{"field":"y"}}},{"transform":[{"filter":"datum.p==6&&datum.s=='m'"}],"mark":{"type":"line","interpolate":"monotone","color":"#f00"},"encoding":{"x":{"field":"v"},"y":{"field":"y"}}},{"data":{"name":"t"},"transform":[{"filter":"datum.p==6"}],"mark":"text","encoding":{"x":{"datum":51},"y":{"datum":4.62},"text":{"field":"lab"}}}]},
{"width":136,"height":106,"encoding":{"x":{"type":"quantitative","scale":{"domain":[-51,51]},"axis":{"values":[-40,-20,0,20,40],"labels":false,"title":null}},"y":{"type":"quantitative","scale":{"domain":[-0.69,14.5]},"axis":{"values":[0,5,10],"format":"d","title":"Flux density [Jy]"}}},"layer":[{"transform":[{"filter":"datum.p==7&&datum.s=='o'"}],"mark":{"type":"line","interpolate":"step","color":"#000"},"encoding":{"x":{"field":"v"},"y":{"field":"y"}}},{"transform":[{"filter":"datum.p==7&&datum.s=='m'"}],"mark":{"type":"line","interpolate":"monotone","color":"#f00"},"encoding":{"x":{"field":"v"},"y":{"field":"y"}}},{"data":{"name":"t"},"transform":[{"filter":"datum.p==7"}],"mark":"text","encoding":{"x":{"datum":51},"y":{"datum":14.5},"text":{"field":"lab"}}}]},
{"width":136,"height":106,"encoding":{"x":{"type":"quantitative","scale":{"domain":[-51,51]},"axis":{"values":[-40,-20,0,20,40],"labels":false,"title":null}},"y":{"type":"quantitative","scale":{"domain":[-1,20.8]},"axis":{"values":[0,5,10,15,20],"format":"d","title":null}}},"layer":[{"transform":[{"filter":"datum.p==8&&datum.s=='o'"}],"mark":{"type":"line","interpolate":"step","color":"#000"},"encoding":{"x":{"field":"v"},"y":{"field":"y"}}},{"transform":[{"filter":"datum.p==8&&datum.s=='m'"}],"mark":{"type":"line","interpolate":"monotone","color":"#f00"},"encoding":{"x":{"field":"v"},"y":{"field":"y"}}},{"data":{"name":"t"},"transform":[{"filter":"datum.p==8"}],"mark":"text","encoding":{"x":{"datum":51},"y":{"datum":20.8},"text":{"field":"lab"}}}]},
{"width":136,"height":106,"encoding":{"x":{"type":"quantitative","scale":{"domain":[-51,51]},"axis":{"values":[-40,-20,0,20,40],"labels":false,"title":null}},"y":{"type":"quantitative","scale":{"domain":[-1.14,23.9]},"axis":{"values":[0,5,10,15,20],"format":"d","title":null}}},"layer":[{"transform":[{"filter":"datum.p==9&&datum.s=='o'"}],"mark":{"type":"line","interpolate":"step","color":"#000"},"encoding":{"x":{"field":"v"},"y":{"field":"y"}}},{"transform":[{"filter":"datum.p==9&&datum.s=='m'"}],"mark":{"type":"line","interpolate":"monotone","color":"#f00"},"encoding":{"x":{"field":"v"},"y":{"field":"y"}}},{"data":{"name":"t"},"transform":[{"filter":"datum.p==9"}],"mark":"text","encoding":{"x":{"datum":51},"y":{"datum":23.9},"text":{"field":"lab"}}}]},
{"width":136,"height":106,"encoding":{"x":{"type":"quantitative","scale":{"domain":[-51,51]},"axis":{"values":[-40,-20,0,20,40],"labels":false,"title":null}},"y":{"type":"quantitative","scale":{"domain":[-1.26,26.5]},"axis":{"values":[0,5,10,15,20,25],"format":"d","title":null}}},"layer":[{"transform":[{"filter":"datum.p==10&&datum.s=='o'"}],"mark":{"type":"line","interpolate":"step","color":"#000"},"encoding":{"x":{"field":"v"},"y":{"field":"y"}}},{"transform":[{"filter":"datum.p==10&&datum.s=='m'"}],"mark":{"type":"line","interpolate":"monotone","color":"#f00"},"encoding":{"x":{"field":"v"},"y":{"field":"y"}}},{"data":{"name":"t"},"transform":[{"filter":"datum.p==10"}],"mark":"text","encoding":{"x":{"datum":51},"y":{"datum":26.5},"text":{"field":"lab"}}}]},
{"width":136,"height":106,"encoding":{"x":{"type":"quantitative","scale":{"domain":[-51,51]},"axis":{"values":[-40,-20,0,20,40],"labels":false,"title":null}},"y":{"type":"quantitative","scale":{"domain":[-0.59,12.4]},"axis":{"values":[0,2.5,5,7.5,10],"format":".1f","title":null}}},"layer":[{"transform":[{"filter":"datum.p==11&&datum.s=='o'"}],"mark":{"type":"line","interpolate":"linear","color":"#000"},"encoding":{"x":{"field":"v"},"y":{"field":"y"}}},{"transform":[{"filter":"datum.p==11&&datum.s=='m'"}],"mark":{"type":"line","interpolate":"monotone","color":"#f00"},"encoding":{"x":{"field":"v"},"y":{"field":"y"}}},{"data":{"name":"t"},"transform":[{"filter":"datum.p==11"}],"mark":"text","encoding":{"x":{"datum":51},"y":{"datum":12.4},"text":{"field":"lab"}}}]},
{"width":136,"height":106,"encoding":{"x":{"type":"quantitative","scale":{"domain":[-51,51]},"axis":{"values":[-40,-20,0,20,40],"labels":false,"title":null}},"y":{"type":"quantitative","scale":{"domain":[-1.3,27.1]},"axis":{"values":[0,5,10,15,20,25],"format":"d","title":null}}},"layer":[{"transform":[{"filter":"datum.p==12&&datum.s=='o'"}],"mark":{"type":"line","interpolate":"linear","color":"#000"},"encoding":{"x":{"field":"v"},"y":{"field":"y"}}},{"transform":[{"filter":"datum.p==12&&datum.s=='m'"}],"mark":{"type":"line","interpolate":"monotone","color":"#f00"},"encoding":{"x":{"field":"v"},"y":{"field":"y"}}},{"data":{"name":"t"},"transform":[{"filter":"datum.p==12"}],"mark":"text","encoding":{"x":{"datum":51},"y":{"datum":27.1},"text":{"field":"lab"}}}]},
{"width":136,"height":106,"encoding":{"x":{"type":"quantitative","scale":{"domain":[-51,51]},"axis":{"values":[-40,-20,0,20,40],"labels":false,"title":null}},"y":{"type":"quantitative","scale":{"domain":[-1.8,37.3]},"axis":{"values":[0,10,20,30],"format":"d","title":null}}},"layer":[{"transform":[{"filter":"datum.p==13&&datum.s=='o'"}],"mark":{"type":"line","interpolate":"linear","color":"#000"},"encoding":{"x":{"field":"v"},"y":{"field":"y"}}},{"transform":[{"filter":"datum.p==13&&datum.s=='m'"}],"mark":{"type":"line","interpolate":"monotone","color":"#f00"},"encoding":{"x":{"field":"v"},"y":{"field":"y"}}},{"data":{"name":"t"},"transform":[{"filter":"datum.p==13"}],"mark":"text","encoding":{"x":{"datum":51},"y":{"datum":37.3},"text":{"field":"lab"}}}]},
{"width":136,"height":106,"encoding":{"x":{"type":"quantitative","scale":{"domain":[-51,51]},"axis":{"values":[-40,-20,0,20,40],"labels":false,"title":null}},"y":{"type":"quantitative","scale":{"domain":[-1.93,40.5]},"axis":{"values":[0,10,20,30,40],"format":"d","title":"Flux density [Jy]"}}},"layer":[{"transform":[{"filter":"datum.p==14&&datum.s=='o'"}],"mark":{"type":"line","interpolate":"step","color":"#000"},"encoding":{"x":{"field":"v"},"y":{"field":"y"}}},{"transform":[{"filter":"datum.p==14&&datum.s=='m'"}],"mark":{"type":"line","interpolate":"monotone","color":"#f00"},"encoding":{"x":{"field":"v"},"y":{"field":"y"}}},{"data":{"name":"t"},"transform":[{"filter":"datum.p==14"}],"mark":"text","encoding":{"x":{"datum":51},"y":{"datum":40.5},"text":{"field":"lab"}}}]},
{"width":136,"height":106,"encoding":{"x":{"type":"quantitative","scale":{"domain":[-51,51]},"axis":{"values":[-40,-20,0,20,40],"labels":false,"title":null}},"y":{"type":"quantitative","scale":{"domain":[-0.24,5.04]},"axis":{"values":[0,1,2,3,4,5],"format":"d","title":"Tᴍʙ [K]"}}},"layer":[{"transform":[{"filter":"datum.p==15&&datum.s=='o'"}],"mark":{"type":"line","interpolate":"step","color":"#000"},"encoding":{"x":{"field":"v"},"y":{"field":"y"}}},{"transform":[{"filter":"datum.p==15&&datum.s=='m'"}],"mark":{"type":"line","interpolate":"monotone","color":"#f00"},"encoding":{"x":{"field":"v"},"y":{"field":"y"}}},{"data":{"name":"t"},"transform":[{"filter":"datum.p==15"}],"mark":"text","encoding":{"x":{"datum":51},"y":{"datum":5.04},"text":{"field":"lab"}}}]},
{"width":136,"height":106,"encoding":{"x":{"type":"quantitative","scale":{"domain":[-51,51]},"axis":{"values":[-40,-20,0,20,40],"labels":false,"title":null}},"y":{"type":"quantitative","scale":{"domain":[-0.33,6.93]},"axis":{"values":[0,2,4,6],"format":"d","title":null}}},"layer":[{"transform":[{"filter":"datum.p==16&&datum.s=='o'"}],"mark":{"type":"line","interpolate":"step","color":"#000"},"encoding":{"x":{"field":"v"},"y":{"field":"y"}}},{"transform":[{"filter":"datum.p==16&&datum.s=='m'"}],"mark":{"type":"line","interpolate":"monotone","color":"#f00"},"encoding":{"x":{"field":"v"},"y":{"field":"y"}}},{"data":{"name":"t"},"transform":[{"filter":"datum.p==16"}],"mark":"text","encoding":{"x":{"datum":51},"y":{"datum":6.93},"text":{"field":"lab"}}}]},
{"width":136,"height":106,"encoding":{"x":{"type":"quantitative","scale":{"domain":[-51,51]},"axis":{"values":[-40,-20,0,20,40],"labels":false,"title":null}},"y":{"type":"quantitative","scale":{"domain":[-0.62,12.9]},"axis":{"values":[0,2.5,5,7.5,10,12.5],"format":".1f","title":null}}},"layer":[{"transform":[{"filter":"datum.p==17&&datum.s=='o'"}],"mark":{"type":"line","interpolate":"step","color":"#000"},"encoding":{"x":{"field":"v"},"y":{"field":"y"}}},{"transform":[{"filter":"datum.p==17&&datum.s=='m'"}],"mark":{"type":"line","interpolate":"monotone","color":"#f00"},"encoding":{"x":{"field":"v"},"y":{"field":"y"}}},{"data":{"name":"t"},"transform":[{"filter":"datum.p==17"}],"mark":"text","encoding":{"x":{"datum":51},"y":{"datum":12.9},"text":{"field":"lab"}}}]},
{"width":136,"height":106,"encoding":{"x":{"type":"quantitative","scale":{"domain":[-51,51]},"axis":{"values":[-40,-20,0,20,40],"labels":false,"title":null}},"y":{"type":"quantitative","scale":{"domain":[-0.86,15.8]},"axis":{"values":[0,5,10,15],"format":"d","title":null}}},"layer":[{"transform":[{"filter":"datum.p==18&&datum.s=='o'"}],"mark":{"type":"line","interpolate":"linear","color":"#000"},"encoding":{"x":{"field":"v"},"y":{"field":"y"}}},{"transform":[{"filter":"datum.p==18&&datum.s=='m'"}],"mark":{"type":"line","interpolate":"monotone","color":"#f00"},"encoding":{"x":{"field":"v"},"y":{"field":"y"}}},{"data":{"name":"t"},"transform":[{"filter":"datum.p==18"}],"mark":"text","encoding":{"x":{"datum":51},"y":{"datum":15.8},"text":{"field":"lab"}}}]},
{"width":136,"height":106,"encoding":{"x":{"type":"quantitative","scale":{"domain":[-51,51]},"axis":{"values":[-40,-20,0,20,40],"labels":false,"title":null}},"y":{"type":"quantitative","scale":{"domain":[-0.2,4.05]},"axis":{"values":[0,1,2,3,4],"format":"d","title":null}}},"layer":[{"transform":[{"filter":"datum.p==19&&datum.s=='o'"}],"mark":{"type":"line","interpolate":"linear","color":"#000"},"encoding":{"x":{"field":"v"},"y":{"field":"y"}}},{"transform":[{"filter":"datum.p==19&&datum.s=='m'"}],"mark":{"type":"line","interpolate":"monotone","color":"#f00"},"encoding":{"x":{"field":"v"},"y":{"field":"y"}}},{"data":{"name":"t"},"transform":[{"filter":"datum.p==19"}],"mark":"text","encoding":{"x":{"datum":51},"y":{"datum":4.05},"text":{"field":"lab"}}}]},
{"width":136,"height":106,"encoding":{"x":{"type":"quantitative","scale":{"domain":[-51,51]},"axis":{"values":[-40,-20,0,20,40],"labels":false,"title":null}},"y":{"type":"quantitative","scale":{"domain":[-1.5,18.5]},"axis":{"values":[0,5,10,15],"format":"d","title":null}}},"layer":[{"transform":[{"filter":"datum.p==20&&datum.s=='o'"}],"mark":{"type":"line","interpolate":"step","color":"#000"},"encoding":{"x":{"field":"v"},"y":{"field":"y"}}},{"transform":[{"filter":"datum.p==20&&datum.s=='m'"}],"mark":{"type":"line","interpolate":"monotone","color":"#f00"},"encoding":{"x":{"field":"v"},"y":{"field":"y"}}},{"data":{"name":"t"},"transform":[{"filter":"datum.p==20"}],"mark":"text","encoding":{"x":{"datum":51},"y":{"datum":18.5},"text":{"field":"lab"}}}]},
{"width":136,"height":106,"encoding":{"x":{"type":"quantitative","scale":{"domain":[-51,51]},"axis":{"values":[-40,-20,0,20,40],"labels":false,"title":null}},"y":{"type":"quantitative","scale":{"domain":[-0.36,4.26]},"axis":{"values":[0,1,2,3,4],"format":"d","title":"Tᴍʙ [K]"}}},"layer":[{"transform":[{"filter":"datum.p==21&&datum.s=='o'"}],"mark":{"type":"line","interpolate":"linear","color":"#000"},"encoding":{"x":{"field":"v"},"y":{"field":"y"}}},{"transform":[{"filter":"datum.p==21&&datum.s=='m'"}],"mark":{"type":"line","interpolate":"monotone","color":"#f00"},"encoding":{"x":{"field":"v"},"y":{"field":"y"}}},{"data":{"name":"t"},"transform":[{"filter":"datum.p==21"}],"mark":"text","encoding":{"x":{"datum":51},"y":{"datum":4.26},"text":{"field":"lab"}}}]},
{"width":136,"height":106,"encoding":{"x":{"type":"quantitative","scale":{"domain":[-51,51]},"axis":{"values":[-40,-20,0,20,40],"labels":false,"title":null}},"y":{"type":"quantitative","scale":{"domain":[-1.1,23.4]},"axis":{"values":[0,5,10,15,20],"format":"d","title":null}}},"layer":[{"transform":[{"filter":"datum.p==22&&datum.s=='o'"}],"mark":{"type":"line","interpolate":"linear","color":"#000"},"encoding":{"x":{"field":"v"},"y":{"field":"y"}}},{"transform":[{"filter":"datum.p==22&&datum.s=='m'"}],"mark":{"type":"line","interpolate":"monotone","color":"#f00"},"encoding":{"x":{"field":"v"},"y":{"field":"y"}}},{"data":{"name":"t"},"transform":[{"filter":"datum.p==22"}],"mark":"text","encoding":{"x":{"datum":51},"y":{"datum":23.4},"text":{"field":"lab"}}}]},
{"width":136,"height":106,"encoding":{"x":{"type":"quantitative","scale":{"domain":[-51,51]},"axis":{"values":[-40,-20,0,20,40],"labels":false,"title":null}},"y":{"type":"quantitative","scale":{"domain":[-0.23,4.83]},"axis":{"values":[0,1,2,3,4],"format":"d","title":null}}},"layer":[{"transform":[{"filter":"datum.p==23&&datum.s=='o'"}],"mark":{"type":"line","interpolate":"linear","color":"#000"},"encoding":{"x":{"field":"v"},"y":{"field":"y"}}},{"transform":[{"filter":"datum.p==23&&datum.s=='m'"}],"mark":{"type":"line","interpolate":"monotone","color":"#f00"},"encoding":{"x":{"field":"v"},"y":{"field":"y"}}},{"data":{"name":"t"},"transform":[{"filter":"datum.p==23"}],"mark":"text","encoding":{"x":{"datum":51},"y":{"datum":4.83},"text":{"field":"lab"}}}]},
{"width":136,"height":106,"encoding":{"x":{"type":"quantitative","scale":{"domain":[-51,51]},"axis":{"values":[-40,-20,0,20,40],"labels":false,"title":null}},"y":{"type":"quantitative","scale":{"domain":[-1.1,23.1]},"axis":{"values":[0,5,10,15,20],"format":"d","title":null}}},"layer":[{"transform":[{"filter":"datum.p==24&&datum.s=='o'"}],"mark":{"type":"line","interpolate":"linear","color":"#000"},"encoding":{"x":{"field":"v"},"y":{"field":"y"}}},{"transform":[{"filter":"datum.p==24&&datum.s=='m'"}],"mark":{"type":"line","interpolate":"monotone","color":"#f00"},"encoding":{"x":{"field":"v"},"y":{"field":"y"}}},{"data":{"name":"t"},"transform":[{"filter":"datum.p==24"}],"mark":"text","encoding":{"x":{"datum":51},"y":{"datum":23.1},"text":{"field":"lab"}}}]},
{"width":136,"height":106,"encoding":{"x":{"type":"quantitative","scale":{"domain":[-51,51]},"axis":{"values":[-40,-20,0,20,40],"labels":false,"title":null}},"y":{"type":"quantitative","scale":{"domain":[-0.25,5.3]},"axis":{"values":[0,1,2,3,4,5],"format":"d","title":null}}},"layer":[{"transform":[{"filter":"datum.p==25&&datum.s=='o'"}],"mark":{"type":"line","interpolate":"linear","color":"#000"},"encoding":{"x":{"field":"v"},"y":{"field":"y"}}},{"transform":[{"filter":"datum.p==25&&datum.s=='m'"}],"mark":{"type":"line","interpolate":"monotone","color":"#f00"},"encoding":{"x":{"field":"v"},"y":{"field":"y"}}},{"data":{"name":"t"},"transform":[{"filter":"datum.p==25"}],"mark":"text","encoding":{"x":{"datum":51},"y":{"datum":5.3},"text":{"field":"lab"}}}]},
{"width":136,"height":106,"encoding":{"x":{"type":"quantitative","scale":{"domain":[-51,51]},"axis":{"values":[-40,-20,0,20,40],"labels":false,"title":null}},"y":{"type":"quantitative","scale":{"domain":[-1.2,25]},"axis":{"values":[0,5,10,15,20],"format":"d","title":null}}},"layer":[{"transform":[{"filter":"datum.p==26&&datum.s=='o'"}],"mark":{"type":"line","interpolate":"linear","color":"#000"},"encoding":{"x":{"field":"v"},"y":{"field":"y"}}},{"transform":[{"filter":"datum.p==26&&datum.s=='m'"}],"mark":{"type":"line","interpolate":"monotone","color":"#f00"},"encoding":{"x":{"field":"v"},"y":{"field":"y"}}},{"data":{"name":"t"},"transform":[{"filter":"datum.p==26"}],"mark":"text","encoding":{"x":{"datum":51},"y":{"datum":25},"text":{"field":"lab"}}}]},
{"width":136,"height":106,"encoding":{"x":{"type":"quantitative","scale":{"domain":[-51,51]},"axis":{"values":[-40,-20,0,20,40],"labels":false,"title":null}},"y":{"type":"quantitative","scale":{"domain":[-0.28,5.83]},"axis":{"values":[0,2,4],"format":"d","title":null}}},"layer":[{"transform":[{"filter":"datum.p==27&&datum.s=='o'"}],"mark":{"type":"line","interpolate":"linear","color":"#000"},"encoding":{"x":{"field":"v"},"y":{"field":"y"}}},{"transform":[{"filter":"datum.p==27&&datum.s=='m'"}],"mark":{"type":"line","interpolate":"monotone","color":"#f00"},"encoding":{"x":{"field":"v"},"y":{"field":"y"}}},{"data":{"name":"t"},"transform":[{"filter":"datum.p==27"}],"mark":"text","encoding":{"x":{"datum":51},"y":{"datum":5.83},"text":{"field":"lab"}}}]},
{"width":136,"height":106,"encoding":{"x":{"type":"quantitative","scale":{"domain":[-51,51]},"axis":{"values":[-40,-20,0,20,40],"title":"vʟꜱʀ [km s⁻¹]"}},"y":{"type":"quantitative","scale":{"domain":[-1.8,37.3]},"axis":{"values":[0,10,20,30],"format":"d","title":"Tᴍʙ [K]"}}},"layer":[{"transform":[{"filter":"datum.p==28&&datum.s=='o'"}],"mark":{"type":"line","interpolate":"linear","color":"#000"},"encoding":{"x":{"field":"v"},"y":{"field":"y"}}},{"transform":[{"filter":"datum.p==28&&datum.s=='m'"}],"mark":{"type":"line","interpolate":"monotone","color":"#f00"},"encoding":{"x":{"field":"v"},"y":{"field":"y"}}},{"data":{"name":"t"},"transform":[{"filter":"datum.p==28"}],"mark":"text","encoding":{"x":{"datum":51},"y":{"datum":37.3},"text":{"field":"lab"}}}]},
{"width":136,"height":106,"encoding":{"x":{"type":"quantitative","scale":{"domain":[-51,51]},"axis":{"values":[-40,-20,0,20,40],"title":"vʟꜱʀ [km s⁻¹]"}},"y":{"type":"quantitative","scale":{"domain":[-0.33,6.83]},"axis":{"values":[0,2,4,6],"format":"d","title":null}}},"layer":[{"transform":[{"filter":"datum.p==29&&datum.s=='o'"}],"mark":{"type":"line","interpolate":"linear","color":"#000"},"encoding":{"x":{"field":"v"},"y":{"field":"y"}}},{"transform":[{"filter":"datum.p==29&&datum.s=='m'"}],"mark":{"type":"line","interpolate":"monotone","color":"#f00"},"encoding":{"x":{"field":"v"},"y":{"field":"y"}}},{"data":{"name":"t"},"transform":[{"filter":"datum.p==29"}],"mark":"text","encoding":{"x":{"datum":51},"y":{"datum":6.83},"text":{"field":"lab"}}}]},
{"width":136,"height":106,"encoding":{"x":{"type":"quantitative","scale":{"domain":[-51,51]},"axis":{"values":[-40,-20,0,20,40],"title":"vʟꜱʀ [km s⁻¹]"}},"y":{"type":"quantitative","scale":{"domain":[-1.8,37.8]},"axis":{"values":[0,10,20,30],"format":"d","title":null}}},"layer":[{"transform":[{"filter":"datum.p==30&&datum.s=='o'"}],"mark":{"type":"line","interpolate":"linear","color":"#000"},"encoding":{"x":{"field":"v"},"y":{"field":"y"}}},{"transform":[{"filter":"datum.p==30&&datum.s=='m'"}],"mark":{"type":"line","interpolate":"monotone","color":"#f00"},"encoding":{"x":{"field":"v"},"y":{"field":"y"}}},{"data":{"name":"t"},"transform":[{"filter":"datum.p==30"}],"mark":"text","encoding":{"x":{"datum":51},"y":{"datum":37.8},"text":{"field":"lab"}}}]},
{"width":136,"height":106,"encoding":{"x":{"type":"quantitative","scale":{"domain":[-51,51]},"axis":{"values":[-40,-20,0,20,40],"title":"vʟꜱʀ [km s⁻¹]"}},"y":{"type":"quantitative","scale":{"domain":[-1.4,29.2]},"axis":{"values":[0,10,20],"format":"d","title":null}}},"layer":[{"transform":[{"filter":"datum.p==31&&datum.s=='o'"}],"mark":{"type":"line","interpolate":"step","color":"#000"},"encoding":{"x":{"field":"v"},"y":{"field":"y"}}},{"transform":[{"filter":"datum.p==31&&datum.s=='m'"}],"mark":{"type":"line","interpolate":"monotone","color":"#f00"},"encoding":{"x":{"field":"v"},"y":{"field":"y"}}},{"data":{"name":"t"},"transform":[{"filter":"datum.p==31"}],"mark":"text","encoding":{"x":{"datum":51},"y":{"datum":29.2},"text":{"field":"lab"}}}]},
{"width":136,"height":106,"encoding":{"x":{"type":"quantitative","scale":{"domain":[-51,51]},"axis":{"values":[-40,-20,0,20,40],"title":"vʟꜱʀ [km s⁻¹]"}},"y":{"type":"quantitative","scale":{"domain":[-1.45,30.1]},"axis":{"values":[0,10,20,30],"format":"d","title":null}}},"layer":[{"transform":[{"filter":"datum.p==32&&datum.s=='o'"}],"mark":{"type":"line","interpolate":"step","color":"#000"},"encoding":{"x":{"field":"v"},"y":{"field":"y"}}},{"transform":[{"filter":"datum.p==32&&datum.s=='m'"}],"mark":{"type":"line","interpolate":"monotone","color":"#f00"},"encoding":{"x":{"field":"v"},"y":{"field":"y"}}},{"data":{"name":"t"},"transform":[{"filter":"datum.p==32"}],"mark":"text","encoding":{"x":{"datum":51},"y":{"datum":30.1},"text":{"field":"lab"}}}]},
{"width":136,"height":106,"encoding":{"x":{"type":"quantitative","scale":{"domain":[-51,51]},"axis":{"values":[-40,-20,0,20,40],"title":"vʟꜱʀ [km s⁻¹]"}},"y":{"type":"quantitative","scale":{"domain":[-1.5,31]},"axis":{"values":[0,10,20,30],"format":"d","title":null}}},"layer":[{"transform":[{"filter":"datum.p==33&&datum.s=='o'"}],"mark":{"type":"line","interpolate":"step","color":"#000"},"encoding":{"x":{"field":"v"},"y":{"field":"y"}}},{"transform":[{"filter":"datum.p==33&&datum.s=='m'"}],"mark":{"type":"line","interpolate":"monotone","color":"#f00"},"encoding":{"x":{"field":"v"},"y":{"field":"y"}}},{"data":{"name":"t"},"transform":[{"filter":"datum.p==33"}],"mark":"text","encoding":{"x":{"datum":51},"y":{"datum":31},"text":{"field":"lab"}}}]},
{"width":136,"height":106,"encoding":{"x":{"type":"quantitative","scale":{"domain":[-51,51]},"axis":{"values":[-40,-20,0,20,40],"title":"vʟꜱʀ [km s⁻¹]"}},"y":{"type":"quantitative","scale":{"domain":[-1.5,31.8]},"axis":{"values":[0,10,20,30],"format":"d","title":null}}},"layer":[{"transform":[{"filter":"datum.p==34&&datum.s=='o'"}],"mark":{"type":"line","interpolate":"step","color":"#000"},"encoding":{"x":{"field":"v"},"y":{"field":"y"}}},{"transform":[{"filter":"datum.p==34&&datum.s=='m'"}],"mark":{"type":"line","interpolate":"monotone","color":"#f00"},"encoding":{"x":{"field":"v"},"y":{"field":"y"}}},{"data":{"name":"t"},"transform":[{"filter":"datum.p==34"}],"mark":"text","encoding":{"x":{"datum":51},"y":{"datum":31.8},"text":{"field":"lab"}}}]}
],
"config":{
"font":"DejaVu Sans",
"view":{"stroke":"#8a8a8a","strokeWidth":1},
"axis":{"domain":false,"grid":true,"gridColor":"#999","gridWidth":0.7,"gridOpacity":{"condition":{"test":"datum.value===0","value":1},"value":0},"tickColor":"#333","tickSize":3.5,"tickWidth":0.8,"labelFont":"DejaVu Sans","labelFontSize":10,"labelColor":"#111","titleFont":"DejaVu Sans","titleFontSize":12.5,"titleFontWeight":"normal","titleColor":"#111"},
"axisY":{"labelPadding":1.5,"titlePadding":1},
"axisX":{"labelPadding":1,"titlePadding":0},
"line":{"strokeWidth":1},
"text":{"font":"DejaVu Sans","fontSize":8.3,"lineHeight":9.3,"align":"right","baseline":"top","dx":-6,"dy":5,"color":"#111"}
}
}
